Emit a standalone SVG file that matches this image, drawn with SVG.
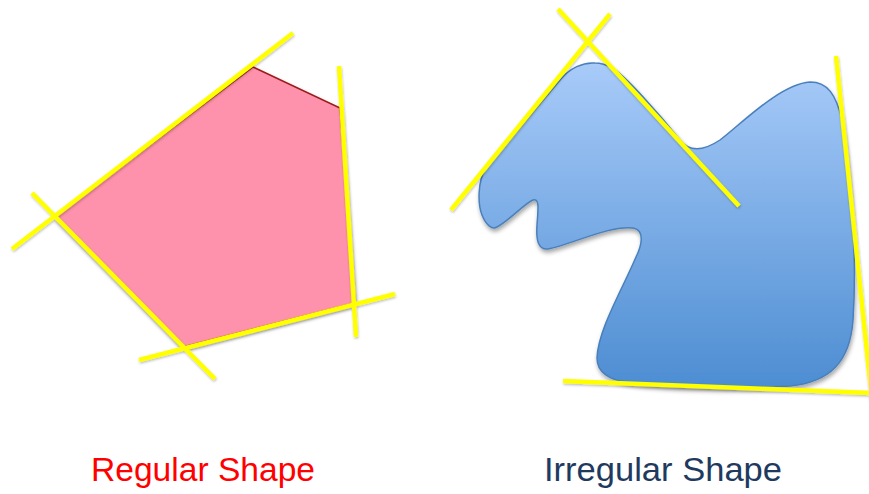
<svg xmlns="http://www.w3.org/2000/svg" width="869" height="494" viewBox="0 0 869 494">
<style>
.tan{stroke:#ffff00;stroke-width:4.5;stroke-linecap:butt;fill:none}
.lbl{font-family:"Liberation Sans Narrow","Liberation Sans",Arial,sans-serif;font-size:33px}
</style>
<defs>
<linearGradient id="blueGrad" x1="0" y1="0" x2="0" y2="1">
<stop offset="0" stop-color="#a8cbf9"/>
<stop offset="1" stop-color="#4d8dd2"/>
</linearGradient>
<filter id="shadow" x="-10%" y="-10%" width="130%" height="130%">
<feDropShadow dx="1" dy="3" stdDeviation="2" flood-color="#000" flood-opacity="0.35"/>
</filter>
<filter id="lshadow" x="-10%" y="-10%" width="130%" height="130%">
<feDropShadow dx="0.5" dy="1.5" stdDeviation="1" flood-color="#000" flood-opacity="0.25"/>
</filter>
</defs>
<g id="regular-shape">
<polygon points="253,67 340,108 355,303 183,347 55,217" fill="#fe91ab" stroke="#9b1b1b" stroke-width="1.5" filter="url(#shadow)"/>
</g>
<g id="irregular-shape">
<path d="M595,63 C583,62 570,68 560,80 C540,104 505,145 486,168 C477,182 478,205 482,215 C486,225 492,230 497,227 C510,220 525,203 533,200 C540,198 538,210 537,225 C536,240 538,250 548,249 C570,245 610,225 633,228 C645,230 642,245 636,257 C622,290 598,330 597,358 C597,372 608,380 630,383 C670,388 740,389 790,386 C830,382 850,362 853,320 C857,260 852,180 842,120 C836,95 828,82 810,82 C780,84 740,125 720,140 C705,150 690,153 680,140 C660,115 625,75 612,68 C605,64 600,63 595,63 Z" fill="url(#blueGrad)" stroke="#4a80bb" stroke-width="1.5" filter="url(#shadow)"/>
</g>
<g id="connectors" filter="url(#lshadow)">
<line class="tan" x1="12" y1="249" x2="293" y2="33"/>
<line class="tan" x1="32" y1="193" x2="215" y2="379"/>
<line class="tan" x1="339" y1="66" x2="356" y2="337"/>
<line class="tan" x1="139" y1="360" x2="395" y2="294"/>
<line class="tan" x1="451" y1="210" x2="610" y2="14"/>
<line class="tan" x1="558" y1="9" x2="739" y2="206"/>
<line class="tan" x1="836" y1="56" x2="872" y2="400"/>
<line class="tan" x1="563" y1="381" x2="872" y2="393"/>
</g>
<g id="labels">
<text class="lbl" x="91" y="481" fill="#ff0000" textLength="224" lengthAdjust="spacingAndGlyphs">Regular Shape</text>
<text class="lbl" x="544" y="481" fill="#1f3a60" textLength="238" lengthAdjust="spacingAndGlyphs">Irregular Shape</text>
</g>
</svg>
